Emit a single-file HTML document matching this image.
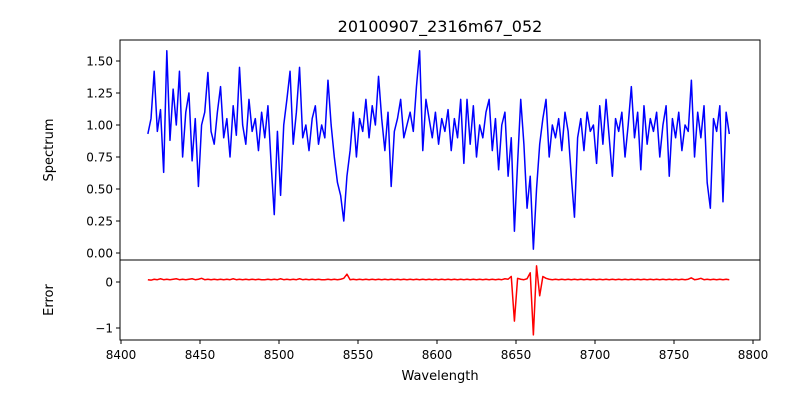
<!DOCTYPE html>
<html><head><meta charset="utf-8"><style>
html,body{margin:0;padding:0;background:#fff;width:800px;height:400px;overflow:hidden}
svg{font-family:"DejaVu Sans","Liberation Sans",sans-serif;}
</style></head><body>
<svg id="chart" width="800" height="400" xmlns="http://www.w3.org/2000/svg">
<rect width="800" height="400" fill="#fff"/>
<text x="440" y="32" font-size="16" text-anchor="middle">20100907_2316m67_052</text>
<text transform="translate(53,150) rotate(-90)" font-size="13" text-anchor="middle">Spectrum</text>
<text transform="translate(53,300) rotate(-90)" font-size="13" text-anchor="middle">Error</text>
<text x="440" y="380" font-size="13" text-anchor="middle">Wavelength</text>
<g id="g"></g>
</svg>
<script>
const wlStart = 8417, wlStep = 2;
const xTicks = [8400,8450,8500,8550,8600,8650,8700,8750,8800];
const yTicksTop = [0,0.25,0.5,0.75,1.0,1.25,1.5];
const yTicksBot = [0,-1];
const spectrum = [
0.93,1.05,1.42,0.95,1.12,0.63,1.58,0.88,1.28,1.0,
1.42,0.75,1.1,1.25,0.72,1.05,0.52,1.0,1.1,1.41,
0.95,0.85,1.1,1.3,0.9,1.05,0.75,1.15,0.92,1.45,
1.0,0.85,1.2,0.95,1.05,0.8,1.1,0.9,1.15,0.7,
0.30,0.95,0.45,1.0,1.2,1.42,0.85,1.1,1.45,0.9,
1.0,0.8,1.05,1.15,0.85,1.0,0.9,1.35,1.0,0.75,
0.55,0.45,0.25,0.6,0.8,1.1,0.75,1.05,0.95,1.2,
0.9,1.15,1.0,1.38,1.05,0.8,1.1,0.52,0.95,1.05,
1.2,0.9,1.0,1.1,0.95,1.3,1.58,0.8,1.2,1.05,
0.9,1.1,0.85,1.05,0.95,1.12,0.8,1.05,0.9,1.2,
0.7,1.2,0.85,1.15,0.75,1.0,0.9,1.1,1.2,0.8,
1.05,0.65,1.0,1.1,0.6,0.9,0.17,0.7,1.2,0.85,
0.35,0.6,0.03,0.5,0.85,1.05,1.2,0.75,1.0,0.9,
1.05,0.8,1.1,0.95,0.6,0.28,0.9,1.05,0.8,1.1,
0.95,1.0,0.7,1.15,0.85,1.2,0.9,0.6,1.05,0.95,
1.1,0.75,1.0,1.3,0.9,1.1,0.65,1.15,0.85,1.05,
0.95,1.1,0.75,1.0,1.15,0.6,1.05,0.9,1.1,0.8,
1.0,0.95,1.35,0.75,1.1,0.9,1.15,0.55,0.35,1.05,
0.95,1.15,0.4,1.1,0.93];
const errorVals = [
0.05,0.04,0.06,0.05,0.07,0.05,0.06,0.05,0.06,0.07,
0.05,0.06,0.05,0.06,0.07,0.05,0.06,0.08,0.05,0.06,
0.05,0.06,0.05,0.06,0.05,0.06,0.05,0.07,0.05,0.06,
0.05,0.06,0.05,0.06,0.05,0.06,0.05,0.05,0.06,0.05,
0.06,0.05,0.07,0.05,0.06,0.05,0.06,0.05,0.07,0.05,
0.06,0.05,0.06,0.05,0.06,0.05,0.05,0.06,0.05,0.06,
0.05,0.06,0.08,0.17,0.05,0.06,0.05,0.06,0.05,0.06,
0.05,0.06,0.05,0.06,0.05,0.06,0.05,0.06,0.05,0.06,
0.05,0.06,0.05,0.06,0.05,0.06,0.05,0.06,0.05,0.06,
0.05,0.06,0.05,0.06,0.05,0.06,0.05,0.06,0.05,0.06,
0.05,0.06,0.05,0.06,0.05,0.06,0.05,0.06,0.05,0.06,
0.05,0.06,0.05,0.07,0.06,0.12,-0.85,0.08,0.06,0.05,
0.07,0.2,-1.15,0.35,-0.3,0.12,0.08,0.06,0.05,0.06,
0.05,0.06,0.05,0.06,0.05,0.06,0.05,0.06,0.05,0.06,
0.05,0.06,0.05,0.06,0.05,0.06,0.05,0.06,0.05,0.06,
0.05,0.06,0.05,0.06,0.05,0.06,0.05,0.06,0.05,0.06,
0.05,0.06,0.05,0.06,0.05,0.06,0.05,0.06,0.05,0.06,
0.05,0.06,0.09,0.05,0.06,0.08,0.05,0.06,0.05,0.06,
0.05,0.06,0.05,0.06,0.05];
const NS="http://www.w3.org/2000/svg";
const g=document.getElementById('g');
const L=120,R=760,T1=40,B1=260,B2=340;
const xs=w=>121+(w-8400)*632/400;
const yTop=v=>253-v*128;
const yBot=v=>282-v*46;
function el(t,a){const e=document.createElementNS(NS,t);for(const k in a)e.setAttribute(k,a[k]);g.appendChild(e);return e;}
function pathFor(arr,yf){return arr.map((v,i)=>(i?'L':'M')+xs(wlStart+i*wlStep).toFixed(2)+','+yf(v).toFixed(2)).join('');}
const sp=el('path',{d:pathFor(spectrum,yTop),fill:'none',stroke:'#0000ff','stroke-width':1.5,'stroke-linejoin':'round'});


const er=el('path',{d:pathFor(errorVals,yBot),fill:'none',stroke:'#ff0000','stroke-width':1.5,'stroke-linejoin':'round'});


const f1=el('rect',{x:L,y:T1,width:R-L,height:B1-T1,fill:'none',stroke:'#000','stroke-width':1});


const f2=el('rect',{x:L,y:B1,width:R-L,height:B2-B1,fill:'none',stroke:'#000','stroke-width':1});


xTicks.forEach(t=>{const x=xs(t);
 el('line',{x1:x,x2:x,y1:B2,y2:B2+4,stroke:'#000'});
 const tx=el('text',{x:x,y:B2+19,'font-size':12,'text-anchor':'middle'});tx.textContent=t;
 
 });
yTicksTop.forEach(t=>{const y=yTop(t);
 el('line',{x1:L-4,x2:L,y1:y,y2:y,stroke:'#000'});
 const tx=el('text',{x:L-7,y:y+4.5,'font-size':12,'text-anchor':'end'});tx.textContent=t.toFixed(2);
 
 });
yTicksBot.forEach(t=>{const y=yBot(t);
 el('line',{x1:L-4,x2:L,y1:y,y2:y,stroke:'#000'});
 const tx=el('text',{x:L-7,y:y+4.5,'font-size':12,'text-anchor':'end'});tx.textContent=t<0?'\u22121':String(t);
 
 });
</script>
</body></html>
